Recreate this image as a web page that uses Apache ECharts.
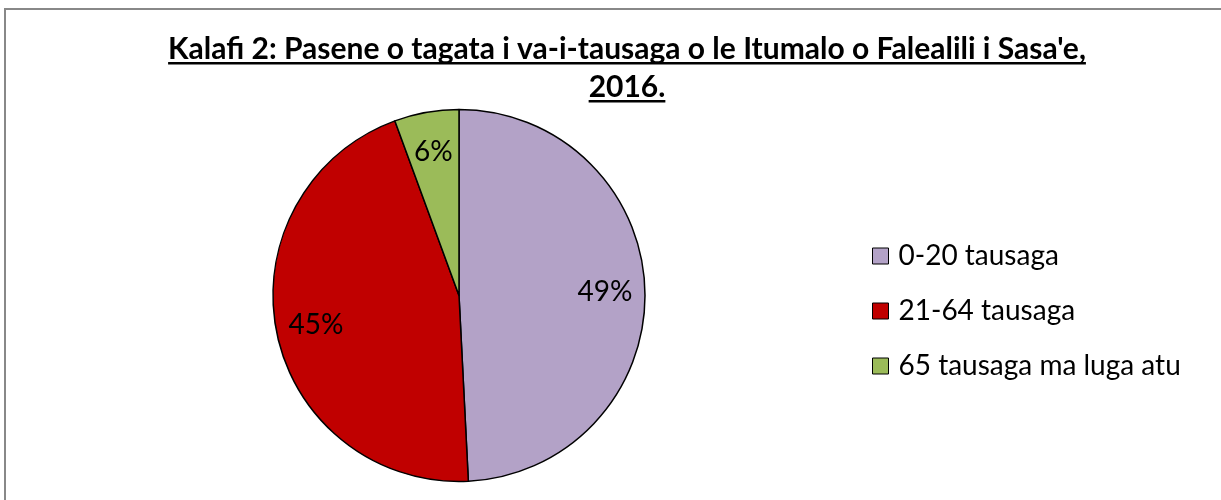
<!DOCTYPE html>
<html>
<head>
<meta charset="utf-8">
<script src="https://cdn.jsdelivr.net/npm/echarts@6/dist/echarts.min.js"></script>
<style>
  html, body { margin: 0; padding: 0; background: #fff; }
  #chart { width: 1221px; height: 500px; }
</style>
</head>
<body>
<div id="chart"></div>
<script>
const titleLines = [
  "Kalafi 2: Pasene o tagata i va-i-tausaga o le Itumalo o Falealili i Sasa'e,",
  "2016."
];
const categories = ["0-20 tausaga", "21-64 tausaga", "65 tausaga ma luga atu"];
const shares = [49.2, 45.2, 5.6];
const colors = ["#B3A2C7", "#C00000", "#9BBB59"];

const fontFamily = "Lato, 'Open Sans', sans-serif";
const titleSize = 30;
const titleCenterX = 627;
const titleTop = 30;
const titleLineHeight = 38;

// measure title lines so the underline fits the text
const ctx = document.createElement("canvas").getContext("2d");
ctx.font = "bold " + titleSize + "px Lato";
const underlines = titleLines.map((line, i) => {
  const w = ctx.measureText(line).width;
  const baseline = titleTop + titleLineHeight * i + titleLineHeight / 2 + 11;
  return {
    type: "rect",
    shape: { x: titleCenterX - w / 2, y: baseline + 2, width: w, height: 2.5 },
    style: { fill: "#000" },
    silent: true
  };
});

const pieData = categories.map((name, i) => ({
  name,
  value: shares[i],
  itemStyle: { color: colors[i] }
}));

const chart = echarts.init(document.getElementById("chart"));
chart.setOption({
  animation: false,
  backgroundColor: "#fff",
  title: {
    text: titleLines.join("\n"),
    left: titleCenterX,
    top: titleTop,
    padding: 0,
    textAlign: "center",
    textStyle: {
      fontFamily,
      fontSize: titleSize,
      fontWeight: "bold",
      color: "#000",
      lineHeight: titleLineHeight
    }
  },
  legend: {
    orient: "vertical",
    left: 867,
    top: 236,
    icon: "rect",
    itemWidth: 16,
    itemHeight: 16,
    itemGap: 25,
    data: categories,
    itemStyle: { borderColor: "#000", borderWidth: 1 },
    textStyle: {
      fontFamily,
      fontSize: 28,
      color: "#000",
      lineHeight: 30,
      padding: [0, 0, 0, 5]
    }
  },
  graphic: [
    {
      type: "rect",
      shape: { x: 5, y: 9, width: 1260, height: 560 },
      style: { fill: "none", stroke: "#888", lineWidth: 2 },
      silent: true
    },
    ...underlines
  ],
  series: [
    {
      type: "pie",
      center: [459, 295.5],
      radius: [0, 186],
      startAngle: 90,
      clockwise: true,
      percentPrecision: 0,
      data: pieData,
      label: { show: false },
      labelLine: { show: false },
      itemStyle: { borderColor: "#000", borderWidth: 1.5 },
      emphasis: { scale: false }
    },
    {
      // transparent copy used only to place the percent labels
      type: "pie",
      center: [459, 295.5],
      radius: [100, 186],
      startAngle: 90,
      clockwise: true,
      percentPrecision: 0,
      silent: true,
      legendHoverLink: false,
      data: pieData.map((d) => ({ name: d.name, value: d.value, itemStyle: { color: "transparent" } })),
      itemStyle: { borderWidth: 0 },
      label: {
        show: true,
        position: "inside",
        formatter: "{d}%",
        fontFamily,
        fontSize: 28,
        color: "#000"
      },
      labelLine: { show: false }
    }
  ]
});
</script>
</body>
</html>
